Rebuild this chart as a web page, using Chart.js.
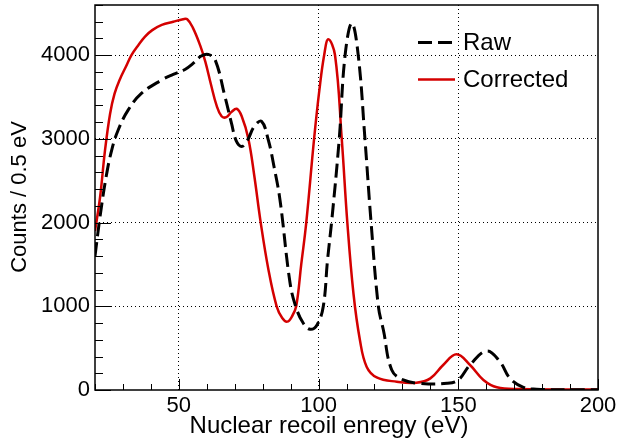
<!DOCTYPE html>
<html>
<head>
<meta charset="utf-8">
<script src="https://cdn.jsdelivr.net/npm/chart.js@4.4.0/dist/chart.umd.min.js"></script>
<style>
  body { margin: 0; background: #fff; }
  canvas { display: block; }
</style>
</head>
<body>
<canvas id="mycanvas" width="619" height="444"></canvas>
<script>
// values
const RAW_X = [20, 21.8, 24, 26, 28.3, 31.9, 36.7, 43.9, 48, 52.2, 55, 58, 60.5, 63, 66.5, 68.9, 70.5, 72.5, 74.5, 77, 79.6, 82, 84, 86.2, 89.8, 92, 94.5, 97, 99.5, 101.7, 103.2, 104.8, 107.4, 109.5, 111.9, 114.2, 116.6, 118.8, 121.4, 123.2, 126.2, 130.3, 136.3, 146, 150, 154.2, 160.2, 164.9, 168.5, 173.3, 178, 190, 200]
const RAW_Y = [1600, 2070, 2550, 2870, 3107, 3347, 3546, 3705, 3770, 3830, 3900, 3990, 4010, 3944, 3506, 3180, 2980, 2910, 2980, 3150, 3210, 2990, 2680, 2271, 1279, 980, 800, 725, 780, 1000, 1550, 2050, 3000, 4000, 4383, 4000, 3000, 2000, 1000, 717, 239, 120, 80, 80, 120, 299, 466, 338, 140, 32, 10, 3, 2]

const COR_X = [20, 21.8, 23.6, 25.4, 27, 29, 31, 33.1, 35.5, 37.9, 40.5, 43.9, 48, 51.5, 53, 55, 57.6, 59.5, 61.5, 63.5, 65.3, 67, 68.8, 70.7, 72.5, 74.9, 77, 79.3, 82, 85, 87, 88.8, 90.5, 92, 93.8, 95.6, 98.4, 100.3, 102, 103.5, 105.9, 108.3, 110.3, 112.5, 114.8, 117.2, 120.8, 128, 135, 140, 144.6, 149.4, 154.2, 159, 163.8, 172, 200]
const COR_Y = [1900, 2300, 2868, 3300, 3540, 3720, 3860, 4004, 4120, 4223, 4300, 4362, 4400, 4430, 4430, 4330, 4120, 3920, 3650, 3400, 3270, 3260, 3320, 3360, 3270, 3000, 2560, 2000, 1450, 1000, 860, 817, 880, 1000, 1500, 2000, 3000, 3585, 4000, 4191, 4000, 3000, 2000, 1150, 598, 279, 151, 99, 87, 139, 299, 426, 299, 120, 32, 12, 5]

const SERIES_LABELS = ["Raw", "Corrected"]
const X_MAJOR = [50, 100, 150, 200]
const Y_MAJOR = [0, 1000, 2000, 3000, 4000]

const FONT = '"Liberation Sans", Arial, Helvetica, sans-serif'
Chart.defaults.font.family = FONT
Chart.defaults.color = '#000'

function toPoints(xs, ys) {
  return xs.map((x, i) => ({ x: x, y: ys[i] }))
}

// ROOT-like frame: inward ticks, box, titles and legend
const rootFrame = {
  id: 'rootFrame',
  afterDraw(chart) {
    const ctx = chart.ctx
    const a = chart.chartArea
    const xs = chart.scales.x
    const ys = chart.scales.y
    ctx.save()
    ctx.strokeStyle = '#000'
    ctx.lineWidth = 1
    ctx.setLineDash([])
    ctx.beginPath()
    xs.ticks.forEach(t => {
      const px = Math.round(xs.getPixelForValue(t.value)) + 0.5
      const len = X_MAJOR.includes(t.value) ? 11 : 6
      ctx.moveTo(px, a.bottom)
      ctx.lineTo(px, a.bottom - len)
    })
    ys.ticks.forEach(t => {
      const py = Math.round(ys.getPixelForValue(t.value)) + 0.5
      const len = Y_MAJOR.includes(t.value) ? 16 : 8
      ctx.moveTo(a.left, py)
      ctx.lineTo(a.left + len, py)
    })
    ctx.stroke()

    ctx.lineWidth = 1.5
    ctx.strokeRect(a.left, a.top, a.right - a.left, a.bottom - a.top)

    // axis titles
    ctx.fillStyle = '#000'
    ctx.font = '24px ' + FONT
    ctx.textAlign = 'center'
    ctx.textBaseline = 'alphabetic'
    ctx.fillText('Nuclear recoil enregy (eV)', 329, 433)
    ctx.save()
    ctx.translate(26, 197)
    ctx.rotate(-Math.PI / 2)
    ctx.font = '22px ' + FONT
    ctx.fillText('Counts / 0.5 eV', 0, 0)
    ctx.restore()

    // legend
    ctx.font = '24px ' + FONT
    ctx.textAlign = 'left'
    const rows = [42, 79]
    chart.data.datasets.forEach((ds, i) => {
      ctx.strokeStyle = ds.borderColor
      ctx.lineWidth = ds.borderWidth
      ctx.setLineDash(ds.borderDash || [])
      ctx.beginPath()
      ctx.moveTo(418, rows[i] + 0.5)
      ctx.lineTo(455, rows[i] + 0.5)
      ctx.stroke()
      ctx.fillText(ds.label, 463, rows[i] + 8)
    })
    ctx.restore()
  }
}

const ctx = document.getElementById('mycanvas').getContext('2d')
window.chart = new Chart(ctx, {
  type: 'line',
  data: {
    datasets: [{
      label: SERIES_LABELS[0],
      data: toPoints(RAW_X, RAW_Y),
      borderColor: '#000000',
      borderWidth: 3,
      borderDash: [14, 6],
      pointRadius: 0,
      fill: false,
      tension: 0.4
    }, {
      label: SERIES_LABELS[1],
      data: toPoints(COR_X, COR_Y),
      borderColor: '#d40000',
      borderWidth: 2.5,
      pointRadius: 0,
      fill: false,
      tension: 0.4
    }]
  },
  options: {
    responsive: false,
    animation: false,
    layout: { padding: { top: 5, right: 21, left: 0, bottom: 0 } },
    plugins: { legend: { display: false }, tooltip: { enabled: false } },
    scales: {
      x: {
        type: 'linear',
        min: 20,
        max: 200,
        afterFit: s => { s.height = 54; s.paddingLeft = 0; s.paddingRight = 0 },
        ticks: {
          stepSize: 10,
          autoSkip: false,
          maxRotation: 0,
          padding: 3,
          font: { size: 22 },
          callback: v => X_MAJOR.includes(v) ? String(v) : ''
        },
        grid: {
          drawTicks: false,
          lineWidth: 1,
          color: c => (c.tick && X_MAJOR.includes(c.tick.value) && c.tick.value < 200) ? '#000' : 'transparent'
        },
        border: { display: false, dash: [1, 3] }
      },
      y: {
        min: 0,
        max: 4600,
        afterFit: s => { s.width = 95; s.paddingTop = 0; s.paddingBottom = 0 },
        ticks: {
          stepSize: 200,
          autoSkip: false,
          padding: 5,
          font: { size: 22 },
          callback: v => Y_MAJOR.includes(v) ? String(v) : ''
        },
        grid: {
          drawTicks: false,
          lineWidth: 1,
          color: c => (c.tick && Y_MAJOR.includes(c.tick.value) && c.tick.value > 0) ? '#000' : 'transparent'
        },
        border: { display: false, dash: [1, 3] }
      }
    }
  },
  plugins: [rootFrame]
})
</script>
</body>
</html>
